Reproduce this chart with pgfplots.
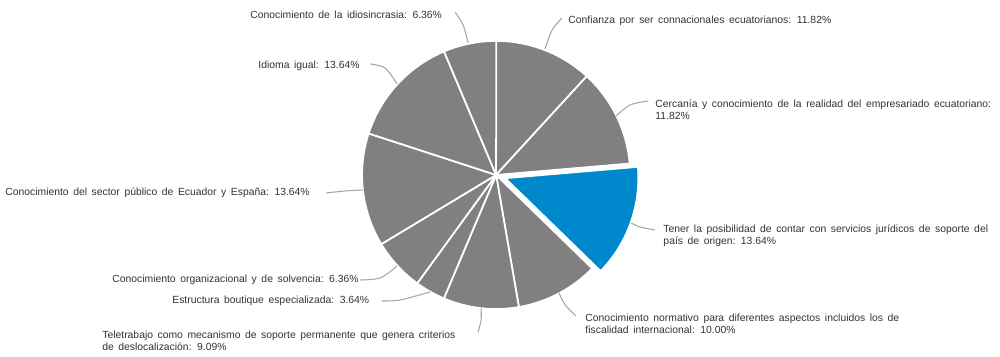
\documentclass[border=0pt]{standalone}
\usepackage{pgfplots}
\usepackage{pgfplotstable}
\pgfplotsset{compat=1.18}
\usepackage{fontspec}
\setmainfont{Liberation Sans}
\definecolor{pgray}{RGB}{128,128,128}
\definecolor{pblue}{RGB}{0,136,204}
\definecolor{lead}{RGB}{165,165,165}
\definecolor{txt}{RGB}{50,50,50}
\newcommand\lblfont{\fontsize{5.9}{6.9}\selectfont\spaceskip=2.6pt plus 0.3pt}
\tikzset{lbl/.style={font=\lblfont, text=txt, inner sep=0pt, anchor=west, align=left}}

\pgfplotstableread{
v c
11.82 pgray
11.82 pgray
13.64 pblue
10.00 pgray
9.09 pgray
3.64 pgray
6.36 pgray
13.64 pgray
13.64 pgray
6.36 pgray
}\piedata

\begin{document}
\begin{tikzpicture}
\begin{axis}[
  x=0.02cm, y=0.02cm,
  xmin=0, xmax=1000, ymin=0, ymax=356,
  hide axis, clip=false,
  at={(0,0)}, anchor=south west,
]
\def\cx{496}\def\cy{181}\def\rr{134}
\gdef\acc{90}
\pgfplotsforeachungrouped \i in {0,...,9}{%
  \pgfplotstablegetelem{\i}{v}\of\piedata \let\val\pgfplotsretval
  \pgfplotstablegetelem{\i}{c}\of\piedata \let\col\pgfplotsretval
  \pgfmathsetmacro\aend{\acc-3.6*\val}%
  \pgfmathsetmacro\amid{(\acc+\aend)/2}%
  \ifnum\i=2 \def\off{9}\def\lw{1.3pt}\else\def\off{0}\def\lw{1pt}\fi
  \pgfmathsetmacro\ccx{\cx+\off*cos(\amid)}%
  \pgfmathsetmacro\ccy{\cy+\off*sin(\amid)}%
  \edef\cmd{\noexpand\addplot[fill=\col, draw=white, line width=\lw, line join=round, domain=\aend:\acc, samples=60, variable=\noexpand\t] ({\ccx+\rr*cos(\noexpand\t)},{\ccy+\rr*sin(\noexpand\t)}) -- (axis cs:\ccx,\ccy) -- cycle;}%
  \cmd
  \global\let\acc\aend
}

% leader lines
\addplot[lead, line width=0.6pt, smooth] coordinates {(455,344) (463,331) (468,313)};
\addplot[lead, line width=0.6pt, smooth] coordinates {(562,338) (552,326) (545,307)};
\addplot[lead, line width=0.6pt, smooth] coordinates {(648,255) (630,251) (616,240)};
\addplot[lead, line width=0.6pt, smooth] coordinates {(655,126) (640,129) (631,133)};
\addplot[lead, line width=0.6pt, smooth] coordinates {(576,40) (565,51) (559,63)};
\addplot[lead, line width=0.6pt, smooth] coordinates {(478,24) (481,36) (481,48)};
\addplot[lead, line width=0.6pt, smooth] coordinates {(382,55) (400,56) (430,64)};
\addplot[lead, line width=0.6pt, smooth] coordinates {(360,76) (380,78) (397,90)};
\addplot[lead, line width=0.6pt, smooth] coordinates {(326,163) (345,165) (363,166)};
\addplot[lead, line width=0.6pt, smooth] coordinates {(370,292) (385,288) (397,272)};

% labels
\node[lbl] at (axis cs:250,341) {Conocimiento de la idiosincrasia: 6.36\%};
\node[lbl] at (axis cs:568,335) {Confianza por ser connacionales ecuatorianos: 11.82\%};
\node[lbl] at (axis cs:655,246) {Cercanía y conocimiento de la realidad del empresariado ecuatoriano:\\11.82\%};
\node[lbl] at (axis cs:663,120) {Tener la posibilidad de contar con servicios jurídicos de soporte del\\país de origen: 13.64\%};
\node[lbl] at (axis cs:585,32) {Conocimiento normativo para diferentes aspectos incluidos los de\\fiscalidad internacional: 10.00\%};
\node[lbl] at (axis cs:102,15) {Teletrabajo como mecanismo de soporte permanente que genera criterios\\de deslocalización: 9.09\%};
\node[lbl] at (axis cs:172,55) {Estructura boutique especializada: 3.64\%};
\node[lbl] at (axis cs:112,76) {Conocimiento organizacional y de solvencia: 6.36\%};
\node[lbl] at (axis cs:5,163) {Conocimiento del sector público de Ecuador y España: 13.64\%};
\node[lbl] at (axis cs:258,290) {Idioma igual: 13.64\%};
\end{axis}
\pgfresetboundingbox
\path (0,0) rectangle (20cm,7.12cm);
\end{tikzpicture}
\end{document}
